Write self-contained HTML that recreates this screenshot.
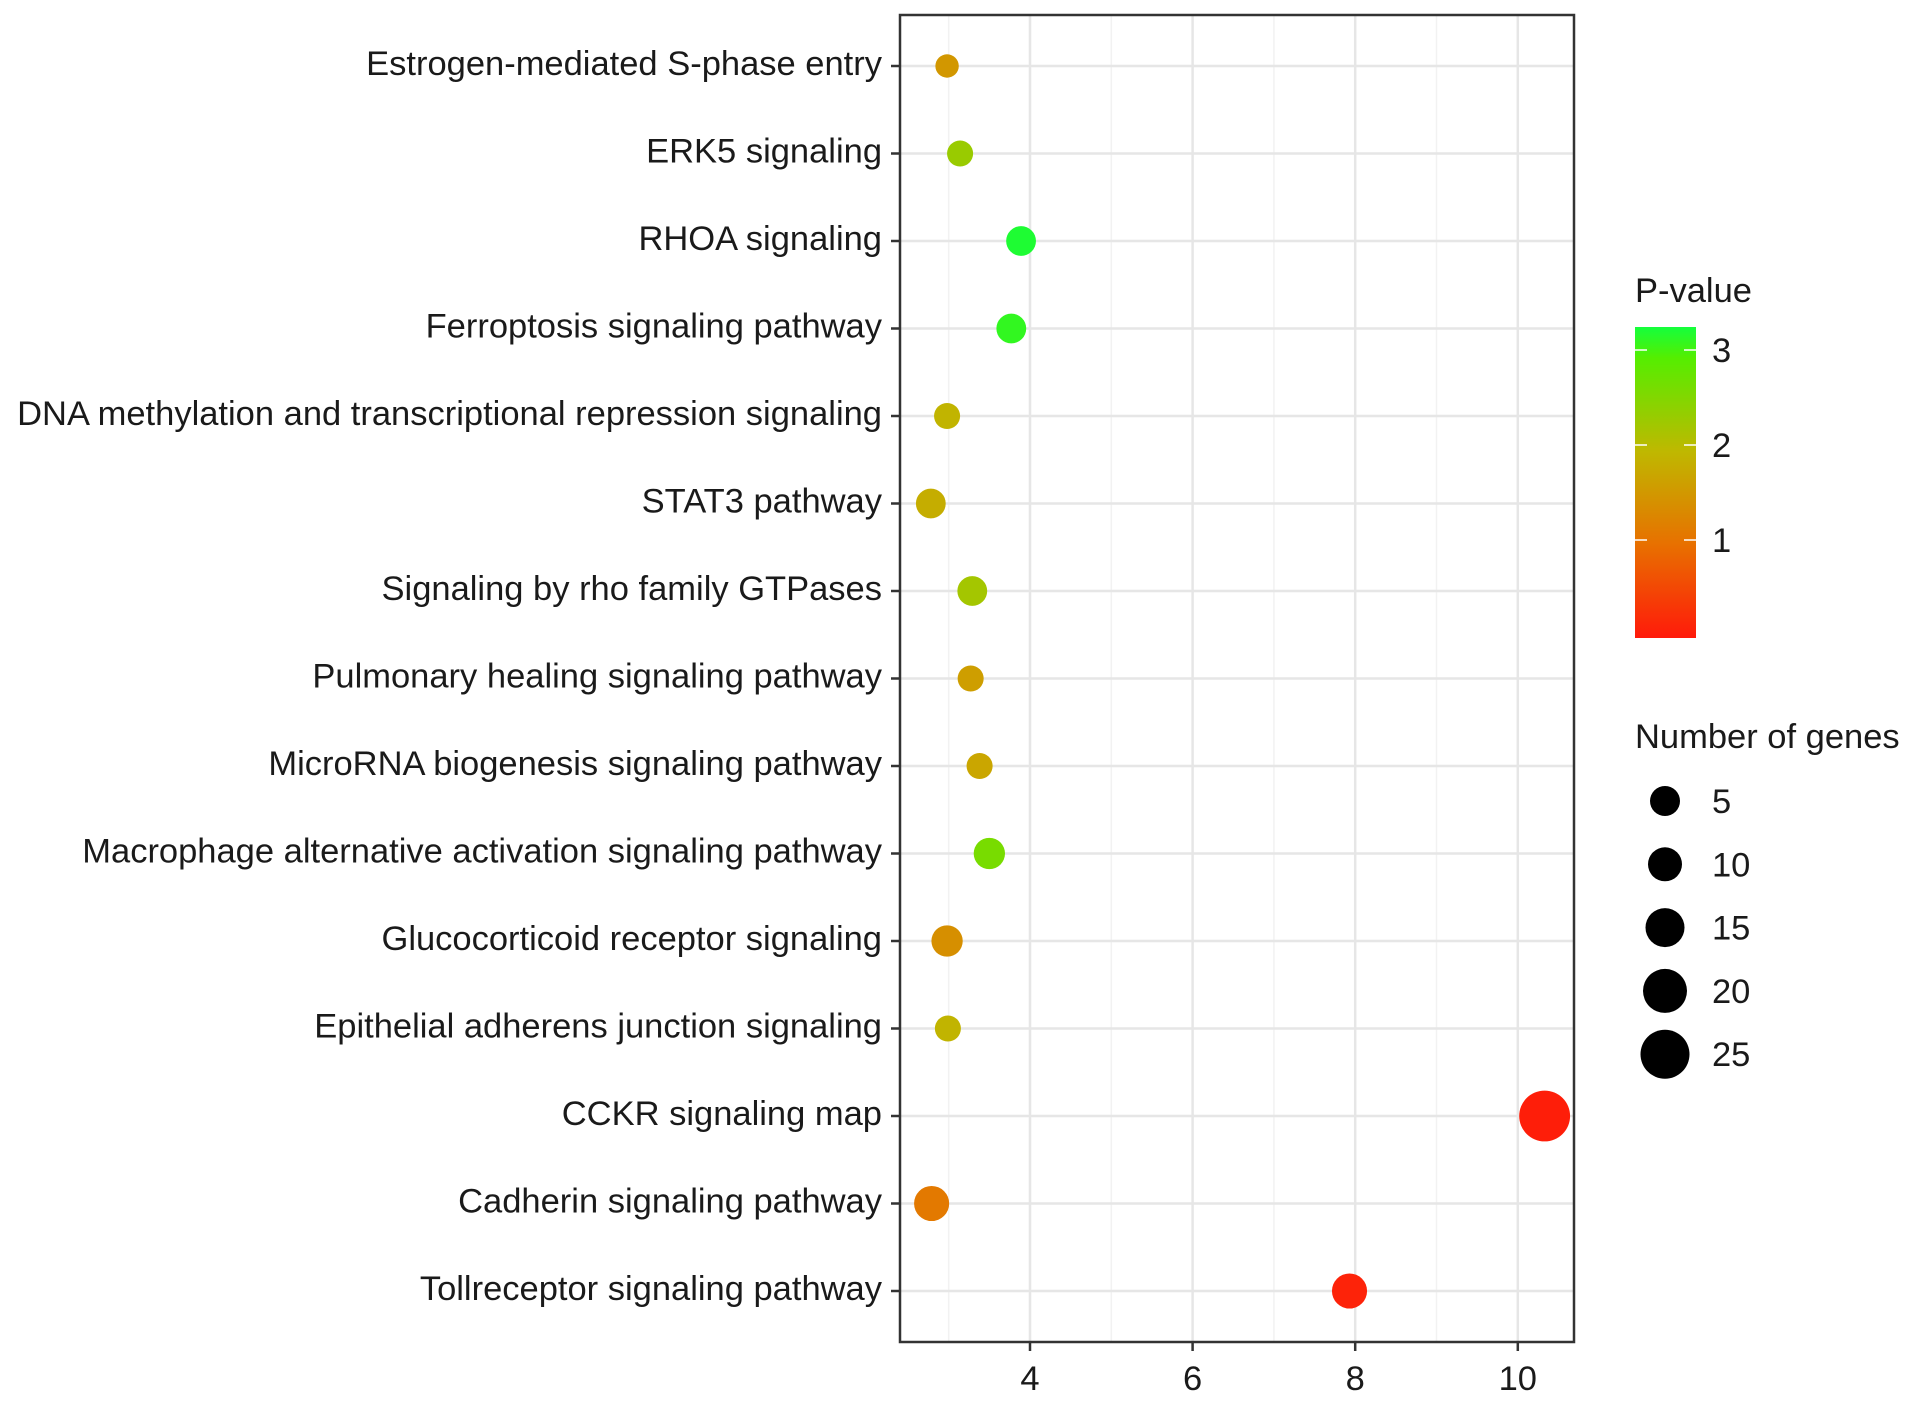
<!DOCTYPE html>
<html><head><meta charset="utf-8"><style>
html,body{margin:0;padding:0;background:#fff;}
svg text{font-family:"Liberation Sans",Arial,sans-serif;}
</style></head><body>
<svg id="chart" width="1913" height="1399" viewBox="0 0 1913 1399" xmlns="http://www.w3.org/2000/svg">
<defs>
<linearGradient id="pgrad" x1="0" y1="1" x2="0" y2="0">
<stop offset="0" stop-color="#ff1a0a"/>
<stop offset="0.3" stop-color="#e87000"/>
<stop offset="0.6" stop-color="#bfb800"/>
<stop offset="0.9" stop-color="#55ee00"/>
<stop offset="1" stop-color="#14ff3c"/>
</linearGradient>
</defs>
<g id="plot"></g>
</svg>
<script>
const categories = ["Estrogen-mediated S-phase entry","ERK5 signaling","RHOA signaling","Ferroptosis signaling pathway","DNA methylation and transcriptional repression signaling","STAT3 pathway","Signaling by rho family GTPases","Pulmonary healing signaling pathway","MicroRNA biogenesis signaling pathway","Macrophage alternative activation signaling pathway","Glucocorticoid receptor signaling","Epithelial adherens junction signaling","CCKR signaling map","Cadherin signaling pathway","Tollreceptor signaling pathway"];
const xValues = [2.98,3.14,3.89,3.77,2.98,2.78,3.29,3.27,3.38,3.5,2.98,2.99,10.33,2.79,7.93];
const pValues = [1.5,2.3,3.2,3.1,1.9,1.8,2.2,1.6,1.7,2.6,1.4,1.9,0.05,1.1,0.1];
const geneCounts = [1,2,4,4,2,4,4,2,2,5,5,2,28,8,8];
const xTicks = [4,6,8,10];
const xMinor = [3,5,7,9];
const pTicks = [1,2,3];
const sizeLegend = [5,10,15,20,25];

const NS="http://www.w3.org/2000/svg";
const g=document.getElementById('plot');
const L=900,R=1574,T=15,B=1342;
const FS=34.5;
const xScale=v=>1030+(v-4)*81.3;
const yScale=i=>66+i*87.5;
const rScale=n=>8.5+3.2*Math.sqrt(n);
const pScale=v=>635-v*95;
const stops=[[0,[255,26,10]],[0.3,[232,112,0]],[0.6,[191,184,0]],[0.9,[85,238,0]],[1,[20,255,60]]];
function pColor(p){const f=Math.max(0,Math.min(1,p/3.25));
 for(let i=1;i<stops.length;i++){if(f<=stops[i][0]){const a=stops[i-1],b=stops[i];const t=(f-a[0])/(b[0]-a[0]);
 return 'rgb('+a[1].map((c,k)=>Math.round(c+(b[1][k]-c)*t)).join(',')+')';}}return 'rgb(20,255,60)';}
function el(tag,attrs,text){const e=document.createElementNS(NS,tag);for(const k in attrs)e.setAttribute(k,attrs[k]);if(text!==undefined)e.textContent=text;g.appendChild(e);return e;}

xMinor.forEach(v=>{const e=el('line',{x1:xScale(v),x2:xScale(v),y1:T,y2:B,stroke:'#f2f2f2','stroke-width':1.5});

});
xTicks.forEach(v=>{const e=el('line',{x1:xScale(v),x2:xScale(v),y1:T,y2:B,stroke:'#e6e6e6','stroke-width':2.5});

});
categories.forEach((c,i)=>{const e=el('line',{x1:L,x2:R,y1:yScale(i),y2:yScale(i),stroke:'#e6e6e6','stroke-width':2.5});


const t=el('line',{x1:L-9,x2:L,y1:yScale(i),y2:yScale(i),stroke:'#333','stroke-width':2.5});


const lb=el('text',{x:L-18,y:yScale(i)+9,'text-anchor':'end','font-size':FS,fill:'#1a1a1a'},c);

});
xTicks.forEach(v=>{const t=el('line',{x1:xScale(v),x2:xScale(v),y1:B,y2:B+9,stroke:'#333','stroke-width':2.5});


const lb=el('text',{x:xScale(v),y:B+48,'text-anchor':'middle','font-size':FS,fill:'#1a1a1a'},v);

});
categories.forEach((c,i)=>{const d=el('circle',{cx:xScale(xValues[i]),cy:yScale(i),r:rScale(geneCounts[i]),fill:pColor(pValues[i])});

});
const border=el('rect',{x:L,y:T,width:R-L,height:B-T,fill:'none',stroke:'#333','stroke-width':2.5});



// color legend
const ct=el('text',{x:1635,y:302,'font-size':FS,fill:'#1a1a1a'},'P-value');


const cb=el('rect',{x:1635,y:327,width:61,height:311,fill:'url(#pgrad)'});


pTicks.forEach(v=>{el('line',{x1:1635,x2:1647,y1:pScale(v),y2:pScale(v),stroke:'#fff','stroke-width':1.5});
el('line',{x1:1684,x2:1696,y1:pScale(v),y2:pScale(v),stroke:'#fff','stroke-width':1.5});
const lb=el('text',{x:1712,y:pScale(v)+12,'font-size':FS,fill:'#1a1a1a'},v);

});

// size legend
const st=el('text',{x:1635,y:748,'font-size':FS,fill:'#1a1a1a'},'Number of genes');


const sr=[15,17,19.5,22,24.5];
sizeLegend.forEach((n,i)=>{const cy=801+i*63.3;
const c=el('circle',{cx:1665,cy:cy,r:sr[i],fill:'#000'});


const lb=el('text',{x:1712,y:cy+12,'font-size':FS,fill:'#1a1a1a'},n);

});
</script>
</body></html>
